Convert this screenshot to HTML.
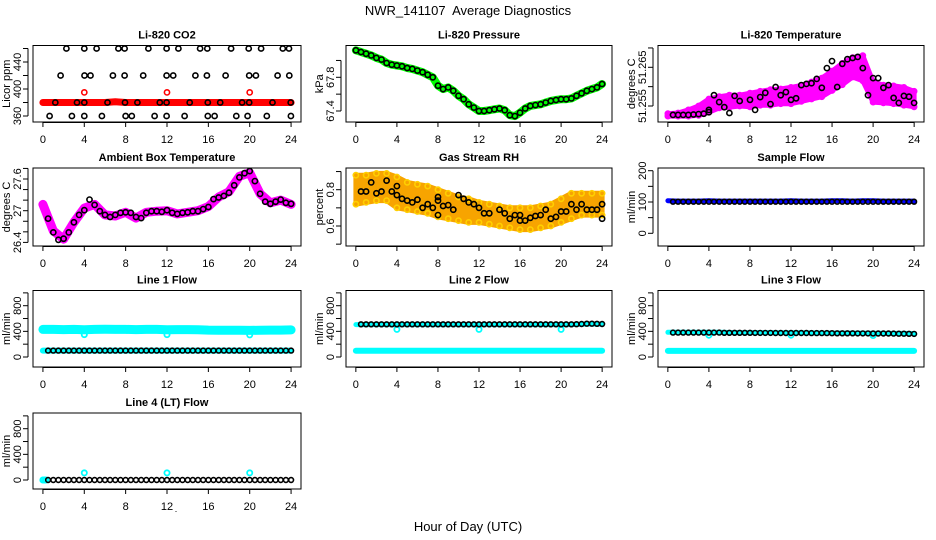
<!DOCTYPE html>
<html><head><meta charset="utf-8"><title>NWR_141107 Average Diagnostics</title>
<style>
html,body{margin:0;padding:0;background:#fff;}
svg{display:block;font-family:"Liberation Sans",Arial,sans-serif;}
</style></head>
<body>
<svg id="chart" width="936" height="540" viewBox="0 0 936 540" xmlns="http://www.w3.org/2000/svg">
<rect x="0" y="0" width="936" height="540" fill="#fff"/>
<text x="468" y="15" font-size="13" text-anchor="middle" style="white-space:pre">NWR_141107&#160; Average Diagnostics</text>
<text x="468" y="531" font-size="13" text-anchor="middle">Hour of Day (UTC)</text>
<text x="176" y="512" font-size="9" text-anchor="middle">.</text>
</svg>
<script>
// ---------- shared categories ----------
const xTicks = [0,4,8,12,16,20,24];
const H25 = [0,1,2,3,4,5,6,7,8,9,10,11,12,13,14,15,16,17,18,19,20,21,22,23,24];
const H48 = [0.5,1,1.5,2,2.5,3,3.5,4,4.5,5,5.5,6,6.5,7,7.5,8,8.5,9,9.5,10,10.5,11,11.5,12,12.5,13,13.5,14,14.5,15,15.5,16,16.5,17,17.5,18,18.5,19,19.5,20,20.5,21,21.5,22,22.5,23,23.5,24];
const H49 = [0,0.5,1,1.5,2,2.5,3,3.5,4,4.5,5,5.5,6,6.5,7,7.5,8,8.5,9,9.5,10,10.5,11,11.5,12,12.5,13,13.5,14,14.5,15,15.5,16,16.5,17,17.5,18,18.5,19,19.5,20,20.5,21,21.5,22,22.5,23,23.5,24];

// ---------- CO2 ----------
const co2BlackHours = [2.27,4.0,5.19,7.3,7.9,10.2,11.96,13.1,15.2,15.9,18.2,19.9,21.1,23.2,23.8,
 1.71,4.02,4.6,6.77,7.9,9.7,11.96,12.6,14.75,15.86,17.67,19.95,20.6,22.7,23.83,
 1.2,3.3,4.0,6.25,7.94,9.14,11.3,11.96,14.2,15.95,17.15,19.26,19.95,22.2,23.96,
 0.65,2.8,4.0,5.7,8.0,8.6,10.8,11.96,13.7,15.95,16.6,18.7,19.8,21.65,23.98];
const co2BlackVals = [460,460,460,460,460,460,460,460,460,460,460,460,460,460,460,
 420,420,420,420,420,420,420,420,420,420,420,420,420,420,420,
 380,380,380,380,380,380,380,380,380,380,380,380,380,380,380,
 360,360,360,360,360,360,360,360,360,360,360,360,360,360,360];
const co2RedVals = [380,380,380,380,380,380,380,381,380,380,380,380,380,380,380,380,380,380,380,380,380,380,380,380,380];
const co2SpikeHours = [4,12,20];
const co2SpikeVals = [395,395,395];

// ---------- Pressure ----------
const presVals = [68.12,68.10,68.08,68.06,68.03,68.01,67.97,67.95,67.94,67.93,67.91,67.90,67.88,67.86,67.83,67.80,67.70,67.66,67.68,67.64,67.58,67.54,67.48,67.44,67.40,67.40,67.41,67.42,67.43,67.41,67.35,67.34,67.38,67.43,67.46,67.47,67.48,67.50,67.52,67.53,67.54,67.54,67.55,67.58,67.61,67.64,67.66,67.68,67.72];

// ---------- Li-820 Temperature ----------
const tempBlackHours = [0.5,1,1.5,2,2.5,3,3.5,4,4,4.5,5,5.5,6,6.5,7,8,8.5,9,9.5,10,10.5,11,11.5,12,12.5,13,13.5,14,14.5,15,15.5,16,16.5,17,17.5,18,18.5,19,19.5,20,20.5,21,21.5,22,22.5,23,23.5,24];
const tempBlackVals = [51.2527,51.2527,51.2527,51.2527,51.2528,51.2529,51.2530,51.2534,51.2540,51.2578,51.2560,51.2547,51.2532,51.2576,51.2563,51.2566,51.2540,51.2573,51.2584,51.2555,51.2599,51.2578,51.2586,51.2566,51.2570,51.2604,51.2607,51.2609,51.2620,51.2597,51.2648,51.2666,51.2599,51.2659,51.2671,51.2674,51.2677,51.2648,51.2578,51.2622,51.2622,51.2597,51.2604,51.2571,51.2558,51.2576,51.2574,51.2558];
const tempMagLo = [51.2524,51.2524,51.2524,51.2526,51.2534,51.2545,51.2547,51.2550,51.2548,51.2552,51.2552,51.2556,51.2556,51.2562,51.2568,51.2574,51.2590,51.2605,51.2625,51.2615,51.2560,51.2558,51.2556,51.2552,51.2548];
const tempMagHi = [51.2530,51.2532,51.2540,51.2550,51.2568,51.2574,51.2578,51.2578,51.2583,51.2588,51.2592,51.2594,51.2598,51.2603,51.2612,51.2622,51.2640,51.2660,51.2675,51.2680,51.2612,51.2604,51.2602,51.2598,51.2588];

// ---------- Ambient ----------
const ambMagVals = [27.12,26.62,26.46,26.78,27.05,27.12,26.92,26.90,26.97,26.86,26.97,26.99,27.0,26.94,26.97,27.0,27.08,27.26,27.36,27.65,27.72,27.32,27.15,27.2,27.12];
const ambBlackVals = [26.85,26.59,26.45,26.47,26.59,26.78,26.92,27.01,27.21,27.11,26.99,26.92,26.88,26.92,26.96,26.97,26.96,26.88,26.86,26.96,26.99,26.99,26.98,27.01,26.96,26.94,26.96,26.97,26.99,26.99,27.03,27.07,27.22,27.25,27.28,27.34,27.48,27.63,27.71,27.75,27.56,27.32,27.17,27.13,27.17,27.21,27.15,27.13];

// ---------- Gas stream RH ----------
const rhBlackHours = [0.5,1,1.5,2,2.5,3,3.5,4,4,4.5,5,5.5,6,6.5,7,7.5,8,8,8,8.5,9,9.5,10,10.5,11,11.5,12,12.5,13,14,14.5,15,15.5,16,16,16.5,17,17.5,18,18.5,19,19.5,20,20.5,21,21.5,22,22.5,23,23.5,24,24];
const rhBlackVals = [0.79,0.79,0.84,0.78,0.79,0.85,0.79,0.82,0.77,0.75,0.74,0.73,0.745,0.70,0.72,0.70,0.76,0.74,0.66,0.71,0.715,0.69,0.77,0.75,0.73,0.72,0.70,0.67,0.67,0.69,0.67,0.64,0.66,0.63,0.66,0.63,0.645,0.655,0.66,0.69,0.64,0.65,0.68,0.68,0.72,0.69,0.72,0.69,0.69,0.69,0.72,0.64];
const rhLo = [0.72,0.73,0.74,0.74,0.70,0.69,0.68,0.67,0.65,0.64,0.63,0.62,0.62,0.61,0.60,0.59,0.58,0.58,0.59,0.60,0.62,0.64,0.66,0.66,0.66];
const rhHi = [0.88,0.88,0.89,0.89,0.87,0.84,0.83,0.82,0.80,0.78,0.76,0.75,0.73,0.72,0.71,0.70,0.70,0.70,0.71,0.72,0.75,0.78,0.78,0.78,0.78];

// ---------- Sample flow ----------
const sampleBlueVals = [104,103,103,103,104,103,103,103,103,103,103,103,104,103,103,103,104,104,103,104,104,103,103,103,103];
const sampleBlackVals = [101,101,101,101,101,101,101,101,101,101,101,101,101,101,101,101,101,101,101,101,101,101,101,101,101,101,101,101,101,101,101,101,101,101,101,101,101,101,101,101,101,101,101,101,101,101,101,101];

// ---------- Line flows ----------
const line1CyanHi = [430,430,428,430,425,430,432,430,430,428,430,430,425,428,428,425,420,418,418,418,415,418,420,420,422];
const line1CyanLo = [100,100,100,100,100,100,100,100,100,100,100,100,100,100,100,100,100,100,100,100,100,100,100,100,100];
const line1BlackVals = [100,100,100,100,100,100,100,100,100,100,100,100,100,100,100,100,100,100,100,100,100,100,100,100,100,100,100,100,100,100,100,100,100,100,100,100,100,100,100,100,100,100,100,100,100,100,100,100];
const line1DipVals = [350,350,345];

const line2CyanHi = [505,505,505,505,505,505,505,505,505,505,505,505,505,505,505,505,505,505,505,505,505,505,510,515,510];
const line2CyanLo = [98,98,98,98,98,98,98,98,98,98,98,98,98,98,98,98,98,98,98,98,98,98,98,98,98];
const line2BlackVals = [510,510,510,510,510,510,510,510,510,510,510,510,510,510,510,510,510,510,510,510,510,510,510,510,510,510,510,510,510,510,510,510,510,510,510,510,510,510,510,510,510,510,512,515,520,520,518,515];
const line2DipVals = [430,430,430];

const line3CyanHi = [385,385,385,385,385,385,382,380,380,380,380,378,378,378,376,375,375,374,372,372,370,370,368,368,366];
const line3CyanLo = [95,95,95,95,95,95,95,95,95,95,95,95,95,95,95,95,95,95,95,95,95,95,95,95,95];
const line3BlackVals = [380,380,380,380,380,380,380,380,380,380,378,378,378,378,378,378,376,376,376,376,375,375,375,375,374,374,374,373,372,372,372,371,370,370,370,369,368,368,368,367,366,366,366,365,364,364,362,360];
const line3DipVals = [340,340,335];

const line4CyanStartHours = [0,0.15,0.3];
const line4CyanStartVals = [0,0,0];
const line4BlackVals = [0,0,0,0,0,0,0,0,0,0,0,0,0,0,0,0,0,0,0,0,0,0,0,0,0,0,0,0,0,0,0,0,0,0,0,0,0,0,0,0,0,0,0,0,0,0,0,0];
const line4SpikeVals = [110,110,110];
const dipHours = [4,12,20];

// ---------- layout ----------
const NS = 'http://www.w3.org/2000/svg';
const svg = document.getElementById('chart');
const cols = [{l:33,r:301},{l:346,r:612},{l:658,r:924}];
const rows = [{t:45.5,b:122},{t:168,b:246},{t:290.5,b:367},{t:413,b:489}];

function mk(tag, attrs, parent){
  const e = document.createElementNS(NS, tag);
  for (const k in attrs) e.setAttribute(k, attrs[k]);
  parent.appendChild(e);
  return e;
}

function panel(col, row, title, ytitle, v1, p1, v2, p2, ticks, labels, name){
  const c = cols[col], r = rows[row];
  const g = mk('g', {}, svg);
  
  
  const xm = h => c.l + (c.r - c.l) * (h + 0.96) / 25.92;
  const ym = v => p1 + (v - v1) * (p2 - p1) / (v2 - v1);
  const clipId = 'clip-' + name;
  const cp = mk('clipPath', {id: clipId}, g);
  mk('rect', {x: c.l, y: r.t, width: c.r - c.l, height: r.b - r.t}, cp);
  const plot = mk('g', {'clip-path': 'url(#' + clipId + ')'}, g);
  
  
  const t = mk('text', {x: (c.l + c.r) / 2, y: r.t - 7, 'font-size': 11, 'font-weight': 'bold', 'text-anchor': 'middle'}, g);
  t.textContent = title;
  
  
  const yt = mk('text', {transform: 'translate(' + (c.l - 23) + ',' + ((r.t + r.b) / 2) + ') rotate(-90)', 'font-size': 11, 'text-anchor': 'middle'}, g);
  yt.textContent = ytitle;
  
  
  for (const tv of xTicks){
    const x = xm(tv);
    const tk = mk('line', {x1: x, y1: r.b, x2: x, y2: r.b + 5, stroke: '#000', 'stroke-width': 1}, g);
    
    
    const tl = mk('text', {x: x, y: r.b + 21, 'font-size': 11, 'text-anchor': 'middle'}, g);
    tl.textContent = tv;
    
    
  }
  const ya = mk('line', {x1: c.l - 5, y1: ym(ticks[0]), x2: c.l - 5, y2: ym(ticks[ticks.length - 1]), stroke: '#000'}, g);
  
  
  for (const tv of ticks){
    const y = ym(tv);
    const tk = mk('line', {x1: c.l - 10, y1: y, x2: c.l - 5, y2: y, stroke: '#000'}, g);
    
    
  }
  for (const lv of labels){
    const y = ym(lv);
    const tl = mk('text', {transform: 'translate(' + (c.l - 12) + ',' + y + ') rotate(-90)', 'font-size': 11, 'text-anchor': 'middle'}, g);
    tl.textContent = lv;
    
    
  }
  const xa = mk('line', {x1: xm(0), y1: r.b + 0.5, x2: xm(24), y2: r.b + 0.5, stroke: '#000'}, g);
  
  
  const bx = mk('rect', {x: c.l, y: r.t, width: c.r - c.l, height: r.b - r.t, fill: 'none', stroke: '#000', 'stroke-width': 1}, g);
  
  
  return {g: plot, xm, ym};
}

function thickLine(p, hs, vs, color, w, nm){
  const pts = hs.map((h, i) => p.xm(h).toFixed(1) + ',' + p.ym(vs[i]).toFixed(1)).join(' ');
  const e = mk('polyline', {points: pts, fill: 'none', stroke: color, 'stroke-width': w, 'stroke-linejoin': 'round', 'stroke-linecap': 'round'}, p.g);
  
  
}
function band(p, hs, lo, hi, color, nm){
  const up = hs.map((h, i) => p.xm(h).toFixed(1) + ',' + p.ym(hi[i]).toFixed(1));
  const dn = hs.map((h, i) => p.xm(h).toFixed(1) + ',' + p.ym(lo[i]).toFixed(1)).reverse();
  const e = mk('polygon', {points: up.concat(dn).join(' '), fill: color, stroke: color, 'stroke-width': 5, 'stroke-linejoin': 'round'}, p.g);
  
  
}
function circles(p, hs, vs, color, r, sw, nm){
  hs.forEach((h, i) => {
    const e = mk('circle', {cx: p.xm(h).toFixed(1), cy: p.ym(vs[i]).toFixed(1), r: r, fill: 'none', stroke: color, 'stroke-width': sw}, p.g);
    
    
  });
}

// ---------- Row 1 ----------
const pCo2 = panel(0, 0, 'Li-820 CO2', 'Licor ppm', 360, 116, 440, 62, [360,380,400,420,440,460], [360,400,440], 'co2-panel');
thickLine(pCo2, H25, co2RedVals, '#ff0000', 7, 'co2-red-series');
circles(pCo2, co2SpikeHours, co2SpikeVals, '#ff0000', 2.6, 1.6, 'co2-red-point');
circles(pCo2, co2BlackHours, co2BlackVals, '#000', 2.6, 1.6, 'co2-black-point');

const pPres = panel(1, 0, 'Li-820 Pressure', 'kPa', 67.4, 111, 67.8, 77.3, [67.4,67.6,67.8,68.0], [67.4,67.8], 'pressure-panel');
thickLine(pPres, H49, presVals, '#00ff00', 8, 'pressure-green-series');
circles(pPres, H49, presVals, '#000', 2.6, 1.6, 'pressure-black-point');

const pTemp = panel(2, 0, 'Li-820 Temperature', 'degrees C', 51.255, 106, 51.265, 67.3, [51.255,51.26,51.265,51.27], [51.255,51.265], 'licor-temp-panel');
band(pTemp, H25, tempMagLo, tempMagHi, '#ff00ff', 'licor-temp-magenta-band');
circles(pTemp, H25, tempMagHi, '#ff00ff', 2.6, 1.6, 'licor-temp-magenta-point');
circles(pTemp, H25, tempMagLo, '#ff00ff', 2.6, 1.6, 'licor-temp-magenta-point');
circles(pTemp, tempBlackHours, tempBlackVals, '#000', 2.6, 1.6, 'licor-temp-black-point');

// ---------- Row 2 ----------
const pAmb = panel(0, 1, 'Ambient Box Temperature', 'degrees C', 27.0, 210.7, 27.6, 179, [26.4,26.6,26.8,27.0,27.2,27.4,27.6,27.8], [26.4,27.0,27.6], 'ambient-temp-panel');
thickLine(pAmb, H25, ambMagVals, '#ff00ff', 9, 'ambient-magenta-series');
circles(pAmb, H48, ambBlackVals, '#000', 2.6, 1.6, 'ambient-black-point');

const pRh = panel(1, 1, 'Gas Stream RH', 'percent', 0.6, 226, 0.8, 189.7, [0.5,0.6,0.7,0.8,0.9], [0.6,0.8], 'rh-panel');
band(pRh, H25, rhLo, rhHi, '#f7a400', 'rh-orange-band');
circles(pRh, H25, rhHi, '#ffd000', 2.6, 1.6, 'rh-yellow-point');
circles(pRh, H25, rhLo, '#ffd000', 2.6, 1.6, 'rh-yellow-point');
circles(pRh, rhBlackHours, rhBlackVals, '#000', 2.6, 1.6, 'rh-black-point');

const pSamp = panel(2, 1, 'Sample Flow', 'ml/min', 0, 233.3, 200, 170.7, [0,50,100,150,200], [0,100,200], 'sample-flow-panel');
thickLine(pSamp, H25, sampleBlueVals, '#0000ff', 5, 'sample-flow-blue-series');
circles(pSamp, H48, sampleBlackVals, '#000', 2.4, 1.6, 'sample-flow-black-point');

// ---------- Row 3 ----------
const flowTicks = [0,200,400,600,800,1000];
const flowLabels = [0,400,800];
const pL1 = panel(0, 2, 'Line 1 Flow', 'ml/min', 0, 357, 800, 305.7, flowTicks, flowLabels, 'line1-flow-panel');
thickLine(pL1, H25, line1CyanHi, '#00ffff', 9, 'line1-cyan-high-series');
circles(pL1, dipHours, line1DipVals, '#00ffff', 2.6, 1.8, 'line1-cyan-dip');
thickLine(pL1, H25, line1CyanLo, '#00ffff', 6, 'line1-cyan-low-series');
circles(pL1, H48, line1BlackVals, '#000', 2.4, 1.6, 'line1-black-point');

const pL2 = panel(1, 2, 'Line 2 Flow', 'ml/min', 0, 357, 800, 305.7, flowTicks, flowLabels, 'line2-flow-panel');
thickLine(pL2, H25, line2CyanHi, '#00ffff', 5, 'line2-cyan-high-series');
circles(pL2, dipHours, line2DipVals, '#00ffff', 2.6, 1.8, 'line2-cyan-dip');
thickLine(pL2, H25, line2CyanLo, '#00ffff', 6, 'line2-cyan-low-series');
circles(pL2, H48, line2BlackVals, '#000', 2.4, 1.6, 'line2-black-point');

const pL3 = panel(2, 2, 'Line 3 Flow', 'ml/min', 0, 357, 800, 305.7, flowTicks, flowLabels, 'line3-flow-panel');
thickLine(pL3, H25, line3CyanHi, '#00ffff', 5, 'line3-cyan-high-series');
circles(pL3, dipHours, line3DipVals, '#00ffff', 2.6, 1.8, 'line3-cyan-dip');
thickLine(pL3, H25, line3CyanLo, '#00ffff', 6, 'line3-cyan-low-series');
circles(pL3, H48, line3BlackVals, '#000', 2.4, 1.6, 'line3-black-point');

// ---------- Row 4 ----------
const pL4 = panel(0, 3, 'Line 4 (LT) Flow', 'ml/min', 0, 480, 800, 428.7, flowTicks, flowLabels, 'line4-flow-panel');
circles(pL4, line4CyanStartHours, line4CyanStartVals, '#00ffff', 2.6, 1.8, 'line4-cyan-point');
circles(pL4, dipHours, line4SpikeVals, '#00ffff', 2.6, 1.8, 'line4-cyan-spike');
circles(pL4, H48, line4BlackVals, '#000', 2.4, 1.6, 'line4-black-point');
</script>
</body></html>
